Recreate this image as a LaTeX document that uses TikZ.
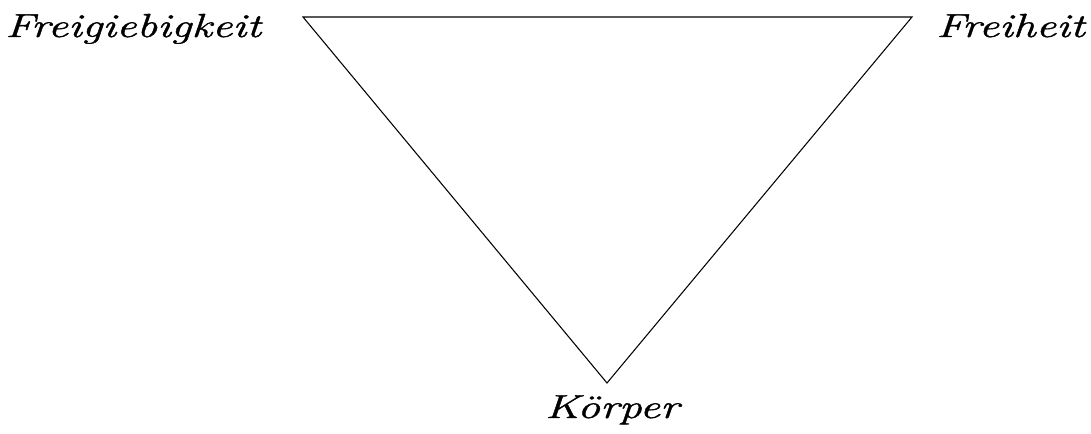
\documentclass[tikz,border=0pt]{standalone}
\usepackage{fontspec}
\newfontfamily\handfont[FakeStretch=1.37, FakeBold=1.2]{Latin Modern Roman}
\usetikzlibrary{positioning}

\begin{document}
\begin{tikzpicture}[
  x=0.75pt, y=-0.75pt,
  edge/.style={draw=black, line width=0.8pt, line join=miter},
  word/.style={font=\handfont\itshape\fontsize{25}{28}\selectfont, inner sep=0pt},
]
\useasboundingbox (0,0) rectangle (1091,434);

% corners of the triangle
\coordinate (left) at (303,17);
\coordinate (right) at (912,17);
\coordinate (bottom) at (607,383);

\draw[edge] (left) -- (right) -- (bottom) -- cycle;

% labels
\node[word, anchor=base west] (giving) at (5,37) {Freigiebigkeit};
\node[word, anchor=base east] (freedom) at (1085,37) {Freiheit};
\node[word, anchor=base] (body) at (612,418) {Körper};

\end{tikzpicture}
\end{document}
